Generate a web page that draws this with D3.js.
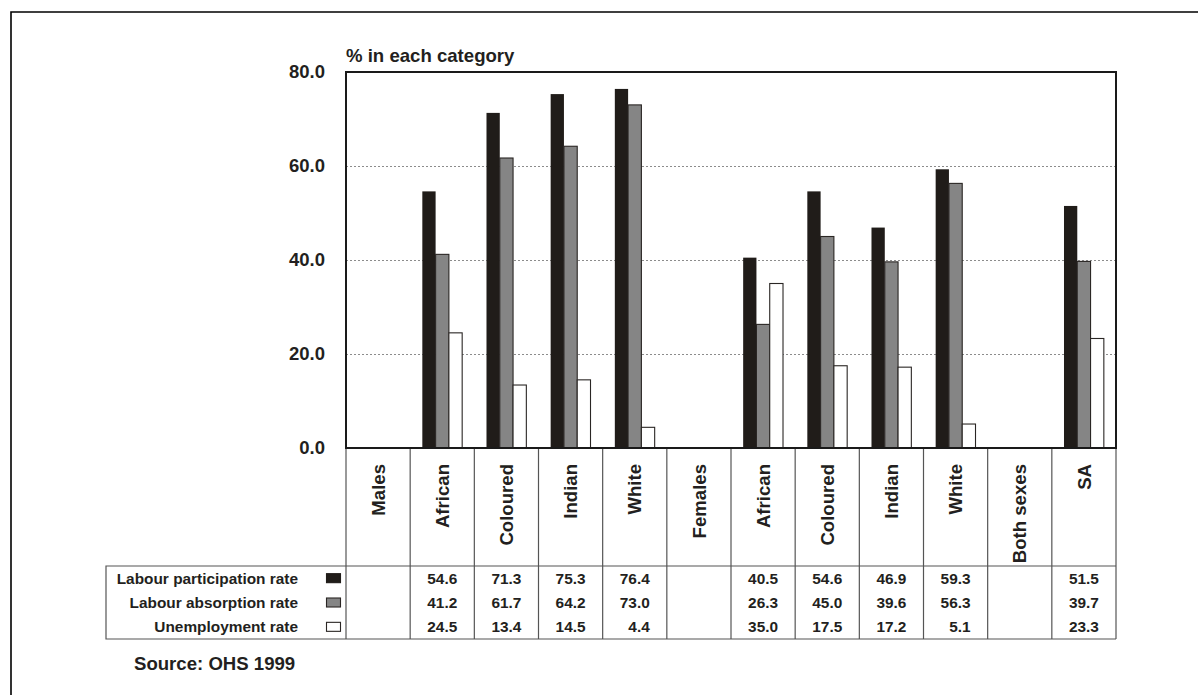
<!DOCTYPE html>
<html>
<head>
<meta charset="utf-8">
<script src="https://d3js.org/d3.v7.min.js"></script>
<style>
  body { margin: 0; background: #fff; }
  text { font-family: "Liberation Sans", Arial, sans-serif; font-weight: bold; fill: #231f20; }
</style>
</head>
<body>
<div id="chart"></div>

<script>
// categories along the x axis (the group headers have no bars)
var categories = ["Males", "African", "Coloured", "Indian", "White", "Females",
                  "African", "Coloured", "Indian", "White", "Both sexes", "SA"];

var seriesNames = ["Labour participation rate", "Labour absorption rate", "Unemployment rate"];

var participation = [null, 54.6, 71.3, 75.3, 76.4, null, 40.5, 54.6, 46.9, 59.3, null, 51.5];
var absorption    = [null, 41.2, 61.7, 64.2, 73.0, null, 26.3, 45.0, 39.6, 56.3, null, 39.7];
var unemployment  = [null, 24.5, 13.4, 14.5,  4.4, null, 35.0, 17.5, 17.2,  5.1, null, 23.3];

var yTicks = [0, 20, 40, 60, 80];
var gridTicks = [20, 40, 60];

var yTitle = "% in each category";
var source = "Source: OHS 1999";

var series = [participation, absorption, unemployment];
var fills = ["#201c19", "#858585", "#ffffff"];
var strokes = ["#201c19", "#2a2624", "#2a2624"];

var W = 1198, H = 695;
var plot = {left: 346, right: 1116, top: 72, bottom: 448};
var table = {left: 106, head: 566, bottom: 639};

var svg = d3.select("#chart").append("svg")
    .attr("width", W)
    .attr("height", H);

// outer frame (only top and left are visible in the picture)
svg.append("path")
    .attr("d", "M11," + H + "V12H" + W)
    .attr("fill", "none")
    .attr("stroke", "#000")
    .attr("stroke-width", 1.6);

var x = d3.scaleBand()
    .domain(d3.range(categories.length))
    .range([plot.left, plot.right]);

var y = d3.scaleLinear()
    .domain([0, 80])
    .range([plot.bottom, plot.top]);

var barW = x.bandwidth() * 0.207;
var xs = d3.scaleBand()
    .domain(d3.range(series.length))
    .range([0, barW * series.length]);

// gridlines
svg.append("g")
    .attr("transform", "translate(" + plot.left + ",0)")
    .call(d3.axisLeft(y).tickValues(gridTicks).tickSize(-(plot.right - plot.left)).tickFormat(""))
    .call(function(g) {
      g.select(".domain").remove();
      g.selectAll("line")
        .attr("stroke", "#8c8c8c")
        .attr("stroke-width", 1)
        .attr("stroke-dasharray", "2,2");
    });

// y labels
svg.append("g")
    .attr("transform", "translate(" + plot.left + ",0)")
    .call(d3.axisLeft(y).tickValues(yTicks).tickFormat(d3.format(".1f")).tickSize(0).tickPadding(21))
    .call(function(g) {
      g.select(".domain").remove();
      g.selectAll("text")
        .attr("font-size", "18.5px")
        .attr("font-family", null)
        .attr("fill", "#231f20");
    });

svg.append("text")
    .attr("x", plot.left)
    .attr("y", 62)
    .attr("font-size", "18.6px")
    .text(yTitle);

// bars
series.forEach(function(vals, s) {
  svg.append("g").selectAll("rect")
    .data(vals.map(function(v, i) { return {i: i, v: v}; }).filter(function(d) { return d.v != null; }))
    .join("rect")
      .attr("x", function(d) { return x(d.i) + (x.bandwidth() - barW * series.length) / 2 + xs(s); })
      .attr("width", xs.bandwidth())
      .attr("y", function(d) { return y(d.v); })
      .attr("height", function(d) { return y(0) - y(d.v); })
      .attr("fill", fills[s])
      .attr("stroke", strokes[s])
      .attr("stroke-width", s == 0 ? 0 : 1.1);
});

// plot frame
svg.append("rect")
    .attr("x", plot.left)
    .attr("y", plot.top)
    .attr("width", plot.right - plot.left)
    .attr("height", plot.bottom - plot.top)
    .attr("fill", "none")
    .attr("stroke", "#1a1a1a")
    .attr("stroke-width", 2);

// data table grid
var grid = svg.append("g")
    .attr("stroke", "#555")
    .attr("stroke-width", 1.2)
    .attr("fill", "none");

d3.range(categories.length + 1).forEach(function(i) {
  var xx = i < categories.length ? x(i) : plot.right;
  grid.append("line")
    .attr("x1", xx).attr("x2", xx)
    .attr("y1", plot.bottom + 1).attr("y2", table.bottom);
});
grid.append("path")
    .attr("d", "M" + plot.right + "," + table.head + "H" + table.left + "V" + table.bottom + "H" + plot.right);

// rotated category names
svg.append("g").selectAll("text")
  .data(categories)
  .join("text")
    .attr("transform", function(d, i) { return "translate(" + (x(i) + x.bandwidth() / 2) + ",464) rotate(-90)"; })
    .attr("text-anchor", "end")
    .attr("dy", "0.36em")
    .attr("font-size", "18.6px")
    .text(function(d) { return d; });

// table rows
var rowH = (table.bottom - table.head) / series.length;
series.forEach(function(vals, s) {
  var cy = table.head + rowH * s + rowH / 2;

  svg.append("text")
    .attr("x", 298)
    .attr("y", cy)
    .attr("dy", "0.36em")
    .attr("text-anchor", "end")
    .attr("font-size", "15.4px")
    .text(seriesNames[s]);

  svg.append("rect")
    .attr("x", 326.5)
    .attr("y", cy - 4.5)
    .attr("width", 14)
    .attr("height", 9)
    .attr("fill", fills[s])
    .attr("stroke", strokes[s])
    .attr("stroke-width", 1.1);

  svg.append("g").selectAll("text")
    .data(vals.map(function(v, i) { return {i: i, v: v}; }).filter(function(d) { return d.v != null; }))
    .join("text")
      .attr("x", function(d) { return x(d.i) + x.bandwidth() / 2 + 15; })
      .attr("y", cy)
      .attr("dy", "0.36em")
      .attr("text-anchor", "end")
      .attr("font-size", "15.4px")
      .text(function(d) { return d3.format(".1f")(d.v); });
});

svg.append("text")
    .attr("x", 134)
    .attr("y", 670)
    .attr("font-size", "18.6px")
    .text(source);
</script>
</body>
</html>
